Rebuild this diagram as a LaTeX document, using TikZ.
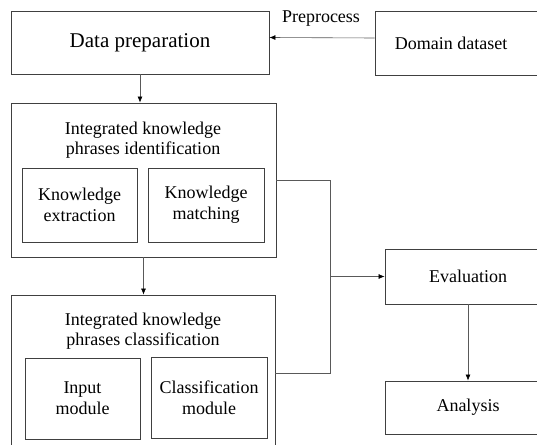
\documentclass[tikz,border=0pt]{standalone}
\usepackage{fontspec}
\setmainfont{Liberation Serif}
\usetikzlibrary{arrows.meta,calc}
\begin{document}
\begin{tikzpicture}[x=1pt,y=-1pt,
  box/.style={draw=black!75,line width=0.9pt,rectangle,inner sep=0pt,font=\fontsize{18}{21}\selectfont,align=center},
  conn/.style={draw=black!65,line width=0.6pt},
  arr/.style={conn,-{Latex[length=6pt,width=5pt,fill=black,color=black]}},
  lbl/.style={inner sep=0pt,font=\fontsize{18}{20}\selectfont,align=center}]
\useasboundingbox (0,0) rectangle (537,444);
\clip (0,0) rectangle (537,444);
% top row
\node[box,minimum width=258,minimum height=63,font=\fontsize{21}{24}\selectfont] (dp) at (140,42.5) {Data preparation};
\node[box,minimum width=180,minimum height=64] (dd) at (465,43) {};
\node[lbl] (ddt) at (451,43) {Domain dataset};
\node[lbl,anchor=base] (pp) at (321,23) {Preprocess};
% identification block
\node[box,minimum width=265,minimum height=154] (b1) at (143.5,180) {};
\node[lbl] (b1t) at (143,140) {Integrated knowledge\\phrases identification};
\node[box,minimum width=115,minimum height=74] (ke) at (79.5,205) {Knowledge\\extraction};
\node[box,minimum width=116,minimum height=74] (km) at (206,205) {Knowledge\\matching};
% classification block
\node[box,minimum width=264,minimum height=157] (b2) at (143,373.5) {};
\node[lbl] (b2t) at (143,331) {Integrated knowledge\\phrases classification};
\node[box,minimum width=115,minimum height=81] (im) at (82.5,398.5) {Input\\module};
\node[box,minimum width=116,minimum height=81] (cm) at (209,397.5) {Classification\\module};
% right column
\node[box,minimum width=166,minimum height=55] (ev) at (468,276.5) {Evaluation};
\node[box,minimum width=166,minimum height=53] (an) at (468,407.5) {Analysis};
% connectors
\draw[arr] ($(dd.west)+(0,-5)$) -- ($(dp.east)+(0,-5)$);
\draw[arr] (dp.south) -- (dp.south |- b1.north);
\draw[arr] (b1.south) -- (b1.south |- b2.north);
\coordinate (j) at (330,276.5);
\draw[conn] (b1.east) -| (j);
\draw[conn] (b2.east) -| (j);
\draw[arr] (j) -- (ev.west);
\draw[arr] (ev.south) -- (an.north);
\end{tikzpicture}
\end{document}
